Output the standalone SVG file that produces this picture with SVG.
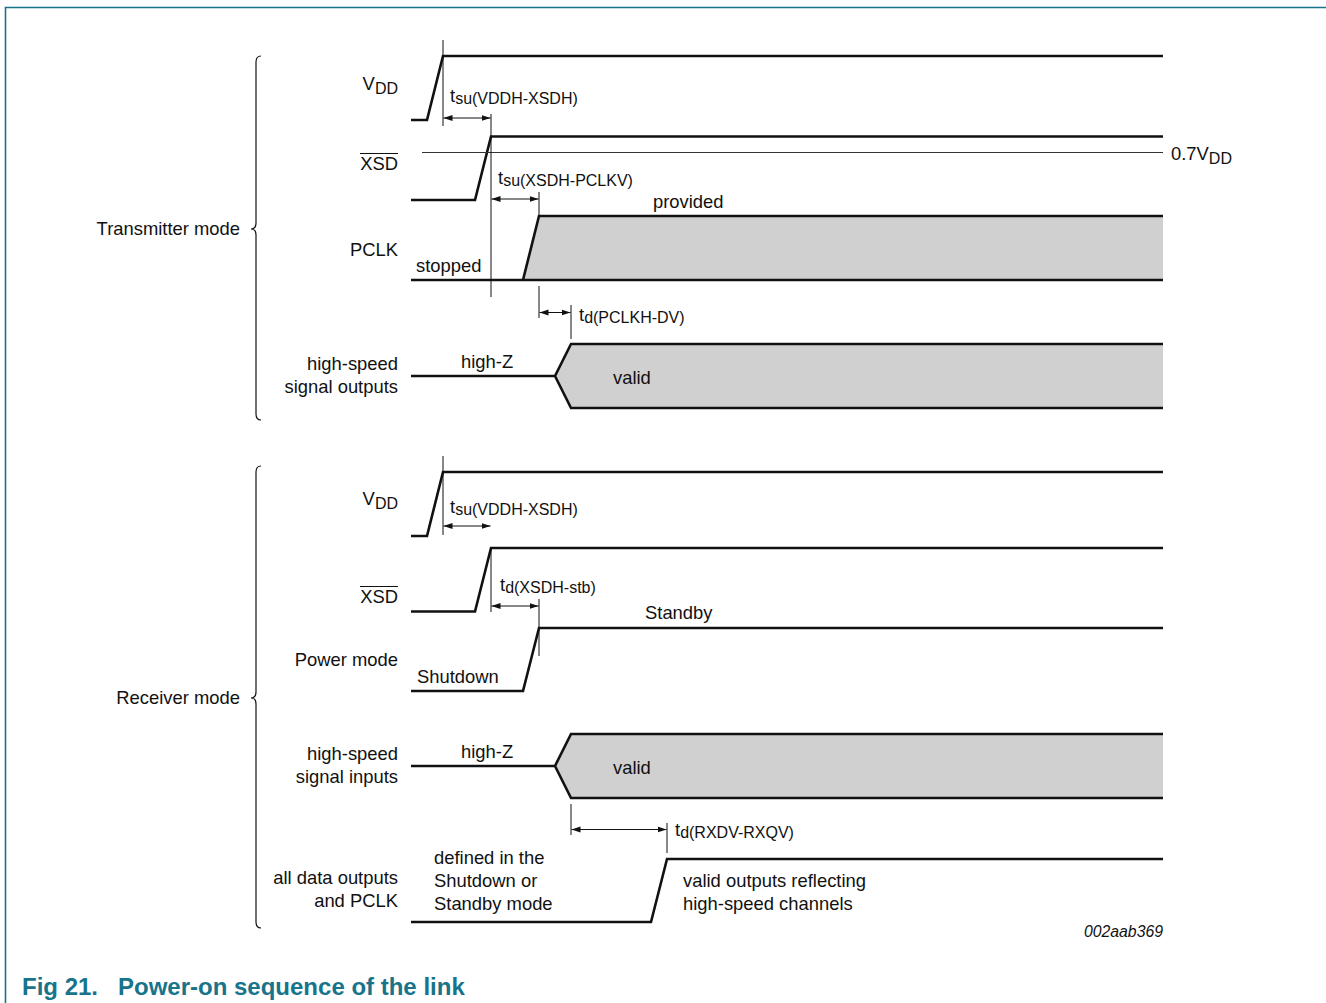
<svg xmlns="http://www.w3.org/2000/svg" width="1326" height="1003" viewBox="0 0 1326 1003">
<defs>
<style>
text{font-family:"Liberation Sans",Arial,sans-serif;font-size:18.4px;fill:#111}
.sub{font-size:16px}
.sig{fill:none;stroke:#111;stroke-width:2.6;stroke-linejoin:miter}
.bus{fill:#d0d0d0;stroke:none}
.tick{stroke:#111;stroke-width:1;fill:none}
.thr{stroke:#333;stroke-width:1;fill:none}
.arr{stroke:#111;stroke-width:1;fill:none;marker-start:url(#ah);marker-end:url(#ah)}
.brace{fill:none;stroke:#111;stroke-width:1.2}
.frame{stroke:#17748a;stroke-width:1.6;fill:none}
.cap{font-size:24px;font-weight:bold;fill:#17748a}
.id{font-size:15.8px;font-style:italic}
</style>
<marker id="ah" markerWidth="10" markerHeight="8" refX="9" refY="4" orient="auto-start-reverse" markerUnits="userSpaceOnUse">
<path d="M0,1 L9,4 L0,7 Z" fill="#111"/>
</marker>
</defs>
<rect width="1326" height="1003" fill="#fff"/>
<path class="frame" d="M5.5,1003 L5.5,7.5 L1326,7.5"/>

<g id="transmitter-label">
<text x="240" y="235" text-anchor="end">Transmitter mode</text>
<path class="brace" d="M261,56 Q256,56 256,62 L256,223 Q256,229 251,229 Q256,229 256,235 L256,414 Q256,420 261,420"/>
</g>
<g id="receiver-label">
<text x="240" y="704" text-anchor="end">Receiver mode</text>
<path class="brace" d="M261,466 Q256,466 256,472 L256,692 Q256,698 251,698 Q256,698 256,704 L256,922 Q256,928 261,928"/>
</g>

<g id="tx-vdd">
<text x="398" y="90" text-anchor="end">V<tspan class="sub" dy="4">DD</tspan></text>
<path class="sig" d="M411,120 L427,120 L443,56 L1163,56"/>
</g>
<g id="tx-xsd">
<text x="398" y="170" text-anchor="end">XSD</text>
<line x1="360" y1="153.5" x2="398" y2="153.5" stroke="#111" stroke-width="1"/>
<path class="sig" d="M411,200 L475,200 L491,136.5 L1163,136.5"/>
<line class="thr" x1="422" y1="152.5" x2="1163" y2="152.5"/>
<text x="1171" y="160">0.7V<tspan class="sub" dy="4">DD</tspan></text>
</g>
<g id="tx-pclk">
<text x="398" y="256" text-anchor="end">PCLK</text>
<path class="bus" d="M523,280 L539,216 L1163,216 L1163,280 Z"/>
<path class="sig" d="M411,280 L1163,280 M523,280 L539,216 L1163,216"/>
<text x="416" y="272">stopped</text>
<text x="653" y="208">provided</text>
</g>
<g id="tx-hs">
<text x="398" y="370" text-anchor="end">high-speed</text>
<text x="398" y="393" text-anchor="end">signal outputs</text>
<path class="bus" d="M555,376 L571,344 L1163,344 L1163,408 L571,408 Z"/>
<path class="sig" d="M411,376 L555,376 L571,344 L1163,344 M555,376 L571,408 L1163,408"/>
<text x="461" y="368">high-Z</text>
<text x="613" y="384">valid</text>
</g>

<g id="rx-vdd">
<text x="398" y="505" text-anchor="end">V<tspan class="sub" dy="4">DD</tspan></text>
<path class="sig" d="M411,536 L427,536 L443,472 L1163,472"/>
</g>
<g id="rx-xsd">
<text x="398" y="603" text-anchor="end">XSD</text>
<line x1="360" y1="586.5" x2="398" y2="586.5" stroke="#111" stroke-width="1"/>
<path class="sig" d="M411,611.5 L475,611.5 L491,548 L1163,548"/>
</g>
<g id="rx-power">
<text x="398" y="666" text-anchor="end">Power mode</text>
<path class="sig" d="M411,691 L523,691 L539,628 L1163,628"/>
<text x="417" y="683">Shutdown</text>
<text x="645" y="619">Standby</text>
</g>
<g id="rx-hs">
<text x="398" y="760" text-anchor="end">high-speed</text>
<text x="398" y="783" text-anchor="end">signal inputs</text>
<path class="bus" d="M555,766 L571,734 L1163,734 L1163,798 L571,798 Z"/>
<path class="sig" d="M411,766 L555,766 L571,734 L1163,734 M555,766 L571,798 L1163,798"/>
<text x="461" y="758">high-Z</text>
<text x="613" y="774">valid</text>
</g>
<g id="rx-data">
<text x="398" y="884" text-anchor="end">all data outputs</text>
<text x="398" y="907" text-anchor="end">and PCLK</text>
<path class="sig" d="M411,922 L651,922 L667,859 L1163,859"/>
<text x="434" y="864">defined in the</text>
<text x="434" y="887">Shutdown or</text>
<text x="434" y="910">Standby mode</text>
<text x="683" y="887">valid outputs reflecting</text>
<text x="683" y="910">high-speed channels</text>
</g>

<g id="connectors">
<line class="tick" x1="443" y1="40" x2="443" y2="126"/>
<line class="tick" x1="491" y1="114" x2="491" y2="297"/>
<line class="tick" x1="539" y1="192" x2="539" y2="216"/>
<line class="tick" x1="539" y1="286" x2="539" y2="318"/>
<line class="tick" x1="571" y1="305" x2="571" y2="339"/>
<line class="arr" x1="443.5" y1="118" x2="490.5" y2="118"/>
<line class="arr" x1="491.5" y1="199" x2="538.5" y2="199"/>
<line class="arr" x1="539.5" y1="312.5" x2="570.5" y2="312.5"/>
<line class="tick" x1="443" y1="456" x2="443" y2="535"/>
<line class="tick" x1="491" y1="548" x2="491" y2="612"/>
<line class="tick" x1="539" y1="599" x2="539" y2="656"/>
<line class="tick" x1="571" y1="804" x2="571" y2="835"/>
<line class="tick" x1="667" y1="823" x2="667" y2="853"/>
<line class="arr" x1="443.5" y1="526" x2="490.5" y2="526"/>
<line class="arr" x1="491.5" y1="606" x2="538.5" y2="606"/>
<line class="arr" x1="571.5" y1="829.5" x2="666.5" y2="829.5"/>
</g>

<g id="timing-labels">
<text x="450" y="102">t<tspan class="sub" dy="2">su(VDDH-XSDH)</tspan></text>
<text x="498" y="184">t<tspan class="sub" dy="2">su(XSDH-PCLKV)</tspan></text>
<text x="579" y="321">t<tspan class="sub" dy="2">d(PCLKH-DV)</tspan></text>
<text x="450" y="513">t<tspan class="sub" dy="2">su(VDDH-XSDH)</tspan></text>
<text x="500" y="591">t<tspan class="sub" dy="2">d(XSDH-stb)</tspan></text>
<text x="675" y="836">t<tspan class="sub" dy="2">d(RXDV-RXQV)</tspan></text>
</g>

<text class="id" x="1163" y="937" text-anchor="end">002aab369</text>
<text class="cap" x="22" y="995">Fig 21.</text>
<text class="cap" x="118" y="995">Power-on sequence of the link</text>
</svg>
